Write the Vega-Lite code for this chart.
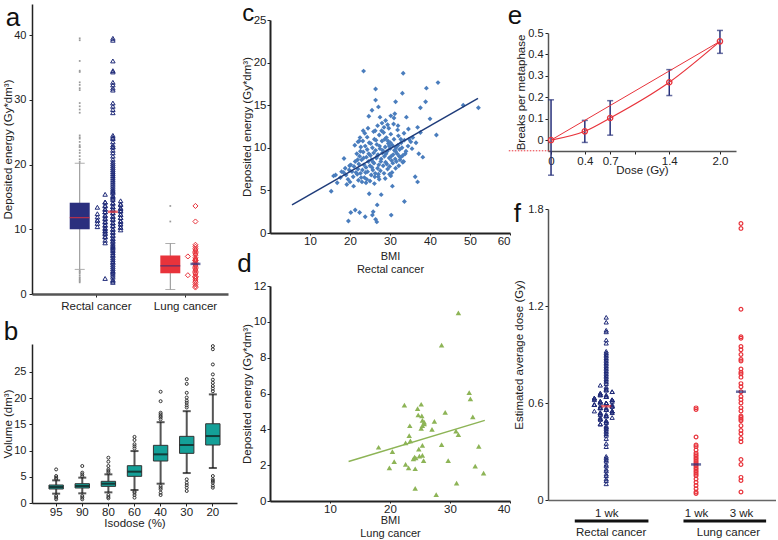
{
"$schema": "https://vega.github.io/schema/vega-lite/v6.json",
"padding": {"left": 2, "top": 0, "right": 0, "bottom": 0},
"background": "white",
"config": {
 "font": "Liberation Sans",
 "view": {"stroke": null},
 "axis": {"grid": false, "labelOverlap": false, "labelFontSize": 11, "titleFontSize": 11.5, "titleFontWeight": "normal", "labelColor": "#222", "titleColor": "#222", "domainColor": "#222", "tickColor": "#222", "tickSize": 3, "labelPadding": 2, "titlePadding": 1, "domainWidth": 1.5},
 "title": {"fontSize": 26, "fontWeight": "normal", "anchor": "start", "color": "#111", "offset": 0, "baseline": "alphabetic"}
},
"datasets": {
 "aBox": [{"g":"R","lo":3.8,"q1":10.0,"med":11.8,"q3":14.1,"hi":20.2},{"g":"L","lo":0.7,"q1":3.2,"med":4.35,"q3":5.95,"hi":7.8}],
 "aMean": [{"g":"R","m":12.7},{"g":"L","m":4.65}],
 "aDots": [
  {"g":"R","v":1.8},{"g":"R","v":2.0},{"g":"R","v":2.2},{"g":"R","v":2.4},{"g":"R","v":2.6},{"g":"R","v":2.9},{"g":"R","v":3.2},{"g":"R","v":3.4},{"g":"R","v":3.6},{"g":"R","v":3.9},
  {"g":"R","v":4.2},{"g":"R","v":4.5},{"g":"R","v":4.8},{"g":"R","v":5.0},{"g":"R","v":5.3},{"g":"R","v":5.6},{"g":"R","v":5.9},{"g":"R","v":6.1},{"g":"R","v":6.4},{"g":"R","v":6.7},
  {"g":"R","v":6.9},{"g":"R","v":7.1},{"g":"R","v":7.3},{"g":"R","v":7.5},{"g":"R","v":7.7},{"g":"R","v":7.9},{"g":"R","v":8.0},{"g":"R","v":8.2},{"g":"R","v":8.3},{"g":"R","v":8.5},
  {"g":"R","v":8.6},{"g":"R","v":8.8},{"g":"R","v":8.9},{"g":"R","v":9.0},{"g":"R","v":9.1},{"g":"R","v":9.3},{"g":"R","v":9.4},{"g":"R","v":9.5},{"g":"R","v":9.6},{"g":"R","v":9.7},
  {"g":"R","v":9.8},{"g":"R","v":9.9},{"g":"R","v":10.0},{"g":"R","v":10.0},{"g":"R","v":10.1},{"g":"R","v":10.2},{"g":"R","v":10.3},{"g":"R","v":10.4},{"g":"R","v":10.5},{"g":"R","v":10.6},
  {"g":"R","v":10.7},{"g":"R","v":10.8},{"g":"R","v":10.9},{"g":"R","v":11.0},{"g":"R","v":11.1},{"g":"R","v":11.2},{"g":"R","v":11.3},{"g":"R","v":11.4},{"g":"R","v":11.5},{"g":"R","v":11.6},
  {"g":"R","v":11.7},{"g":"R","v":11.8},{"g":"R","v":11.9},{"g":"R","v":12.0},{"g":"R","v":10.3},{"g":"R","v":10.6},{"g":"R","v":11.0},{"g":"R","v":11.4},{"g":"R","v":11.8},{"g":"R","v":10.8},
  {"g":"R","v":11.2},{"g":"R","v":11.6},{"g":"R","v":12.1},{"g":"R","v":12.2},{"g":"R","v":12.3},{"g":"R","v":12.4},{"g":"R","v":12.5},{"g":"R","v":12.6},{"g":"R","v":12.7},{"g":"R","v":12.8},
  {"g":"R","v":12.9},{"g":"R","v":13.0},{"g":"R","v":13.1},{"g":"R","v":13.2},{"g":"R","v":13.3},{"g":"R","v":13.4},{"g":"R","v":13.5},{"g":"R","v":13.6},{"g":"R","v":13.7},{"g":"R","v":13.8},
  {"g":"R","v":13.9},{"g":"R","v":14.0},{"g":"R","v":12.3},{"g":"R","v":12.7},{"g":"R","v":13.1},{"g":"R","v":13.1},{"g":"R","v":13.5},{"g":"R","v":12.0},{"g":"R","v":14.1},{"g":"R","v":14.2},
  {"g":"R","v":14.2},{"g":"R","v":14.4},{"g":"R","v":14.6},{"g":"R","v":14.8},{"g":"R","v":15.0},{"g":"R","v":15.2},{"g":"R","v":15.4},{"g":"R","v":15.6},{"g":"R","v":15.8},{"g":"R","v":16.0},
  {"g":"R","v":16.2},{"g":"R","v":16.5},{"g":"R","v":16.8},{"g":"R","v":17.1},{"g":"R","v":17.4},{"g":"R","v":17.7},{"g":"R","v":18.0},{"g":"R","v":18.3},{"g":"R","v":18.6},{"g":"R","v":18.9},
  {"g":"R","v":19.2},{"g":"R","v":19.5},{"g":"R","v":19.8},{"g":"R","v":20.1},{"g":"R","v":20.4},{"g":"R","v":20.8},{"g":"R","v":21.3},{"g":"R","v":21.8},{"g":"R","v":22.2},{"g":"R","v":22.7},
  {"g":"R","v":22.7},{"g":"R","v":23.0},{"g":"R","v":23.5},{"g":"R","v":24.0},{"g":"R","v":24.2},{"g":"R","v":24.5},{"g":"R","v":28.0},{"g":"R","v":28.5},{"g":"R","v":29.0},{"g":"R","v":29.5},
  {"g":"R","v":31.5},{"g":"R","v":31.8},{"g":"R","v":32.3},{"g":"R","v":32.7},{"g":"R","v":34.3},{"g":"R","v":34.5},{"g":"R","v":36.0},{"g":"R","v":39.2},{"g":"R","v":39.5},
  {"g":"L","v":1.0},{"g":"L","v":1.2},{"g":"L","v":1.5},{"g":"L","v":1.8},{"g":"L","v":2.0},{"g":"L","v":2.3},{"g":"L","v":2.5},{"g":"L","v":2.7},{"g":"L","v":2.7},{"g":"L","v":2.9},
  {"g":"L","v":3.1},{"g":"L","v":3.3},{"g":"L","v":3.5},{"g":"L","v":3.7},{"g":"L","v":3.9},{"g":"L","v":4.1},{"g":"L","v":4.3},{"g":"L","v":4.5},{"g":"L","v":4.7},{"g":"L","v":4.9},
  {"g":"L","v":5.1},{"g":"L","v":5.2},{"g":"L","v":5.2},{"g":"L","v":5.4},{"g":"L","v":5.6},{"g":"L","v":5.8},{"g":"L","v":6.0},{"g":"L","v":6.2},{"g":"L","v":6.4},{"g":"L","v":6.6},
  {"g":"L","v":6.8},{"g":"L","v":7.0},{"g":"L","v":7.3},{"g":"L","v":7.6},{"g":"L","v":11.2},{"g":"L","v":13.6}
 ],
 "bBox": [
  {"iso":"95","lo":1.78,"q1":2.67,"med":3.05,"q3":3.43,"hi":4.32},
  {"iso":"90","lo":1.84,"q1":2.86,"med":3.24,"q3":3.68,"hi":4.83},
  {"iso":"80","lo":2.03,"q1":3.17,"med":3.68,"q3":4.13,"hi":5.46},
  {"iso":"60","lo":2.48,"q1":5.08,"med":5.97,"q3":7.11,"hi":9.9},
  {"iso":"40","lo":3.68,"q1":8.0,"med":9.27,"q3":10.99,"hi":15.4},
  {"iso":"30","lo":5.71,"q1":9.46,"med":11.05,"q3":12.7,"hi":17.5},
  {"iso":"20","lo":6.67,"q1":11.05,"med":12.76,"q3":15.1,"hi":20.7}
 ],
 "bOut": [
  {"iso":"95","v":4.6},{"iso":"95","v":4.83},{"iso":"95","v":5.14},{"iso":"95","v":6.4},{"iso":"95","v":1.33},{"iso":"95","v":1.02},{"iso":"95","v":0.7},
  {"iso":"90","v":5.1},{"iso":"90","v":5.46},{"iso":"90","v":5.78},{"iso":"90","v":7.05},{"iso":"90","v":1.33},{"iso":"90","v":1.02},{"iso":"90","v":0.7},
  {"iso":"80","v":5.78},{"iso":"80","v":6.1},{"iso":"80","v":6.41},{"iso":"80","v":7.05},{"iso":"80","v":7.87},{"iso":"80","v":8.63},{"iso":"80","v":1.52},{"iso":"80","v":1.14},{"iso":"80","v":0.89},
  {"iso":"60","v":10.4},{"iso":"60","v":10.8},{"iso":"60","v":11.2},{"iso":"60","v":12.0},{"iso":"60","v":12.6},{"iso":"60","v":2.2},{"iso":"60","v":1.97},{"iso":"60","v":1.52},{"iso":"60","v":1.02},
  {"iso":"40","v":15.94},{"iso":"40","v":16.3},{"iso":"40","v":16.57},{"iso":"40","v":16.9},{"iso":"40","v":17.2},{"iso":"40","v":19.4},{"iso":"40","v":21.2},{"iso":"40","v":3.24},{"iso":"40","v":2.9},{"iso":"40","v":2.6},{"iso":"40","v":1.97},{"iso":"40","v":1.52},
  {"iso":"30","v":18.2},{"iso":"30","v":18.6},{"iso":"30","v":19.1},{"iso":"30","v":19.5},{"iso":"30","v":20.1},{"iso":"30","v":21.0},{"iso":"30","v":22.7},{"iso":"30","v":23.6},{"iso":"30","v":4.51},{"iso":"30","v":3.87},{"iso":"30","v":3.4},{"iso":"30","v":2.92},{"iso":"30","v":2.29},
  {"iso":"20","v":21.3},{"iso":"20","v":21.8},{"iso":"20","v":22.3},{"iso":"20","v":22.9},{"iso":"20","v":23.5},{"iso":"20","v":24.5},{"iso":"20","v":26.4},{"iso":"20","v":29.3},{"iso":"20","v":29.9},{"iso":"20","v":5.14},{"iso":"20","v":4.51},{"iso":"20","v":4.2},{"iso":"20","v":3.87},{"iso":"20","v":3.3},{"iso":"20","v":2.92}
 ],
 "cPts": [
  {"b":23.4,"e":19.0},{"b":33.3,"e":18.75},{"b":42.0,"e":17.65},{"b":39.1,"e":17.0},{"b":26.4,"e":16.9},{"b":26.4,"e":15.6},{"b":33.1,"e":16.4},{"b":31.4,"e":15.4},{"b":38.9,"e":15.4},{"b":48.3,"e":15.0},
  {"b":52.1,"e":14.7},{"b":27.1,"e":14.8},{"b":25.5,"e":14.4},{"b":37.6,"e":14.7},{"b":24.7,"e":13.7},{"b":40.0,"e":13.4},{"b":41.6,"e":11.5},{"b":37.6,"e":11.8},{"b":36.9,"e":12.4},{"b":38.2,"e":8.9},
  {"b":36.3,"e":6.6},{"b":36.9,"e":6.0},{"b":15.3,"e":4.9},{"b":24.8,"e":4.6},{"b":27.8,"e":4.5},{"b":26.8,"e":3.3},{"b":33.6,"e":3.7},{"b":21.3,"e":2.7},{"b":22.4,"e":2.4},{"b":20.2,"e":2.4},
  {"b":23.8,"e":1.9},{"b":25.6,"e":2.1},{"b":25.8,"e":2.5},{"b":26.4,"e":1.6},{"b":26.7,"e":1.3},{"b":19.6,"e":1.4},{"b":30.3,"e":2.1},{"b":18.5,"e":8.75},{"b":16.4,"e":6.8},{"b":16.8,"e":5.9},
  {"b":15.9,"e":6.7},{"b":18.4,"e":7.1},{"b":19.9,"e":7.9},{"b":29.8,"e":10.2},{"b":32.7,"e":11.0},{"b":35.2,"e":10.7},{"b":35.7,"e":11.2},{"b":34.6,"e":12.2},{"b":32.0,"e":12.6},{"b":28.9,"e":13.2},
  {"b":30.2,"e":13.75},{"b":34.1,"e":13.6},{"b":28.5,"e":12.4},{"b":22.3,"e":10.8},{"b":22.6,"e":9.6},{"b":24.3,"e":11.25},{"b":23.3,"e":12.0},{"b":32.3,"e":9.0},{"b":33.2,"e":8.3},{"b":31.4,"e":9.6},
  {"b":32.7,"e":8.9},{"b":30.2,"e":6.7},{"b":30.6,"e":5.5},{"b":27.1,"e":6.6},
  {"b":20.5,"e":7.2},{"b":21.0,"e":7.8},{"b":21.3,"e":8.4},{"b":21.8,"e":6.9},{"b":22.0,"e":7.5},{"b":22.2,"e":8.1},{"b":22.4,"e":9.0},{"b":22.6,"e":7.0},{"b":22.9,"e":8.6},{"b":23.1,"e":7.4},
  {"b":23.3,"e":9.5},{"b":23.5,"e":8.0},{"b":23.6,"e":6.5},{"b":23.8,"e":10.2},{"b":24.0,"e":7.7},{"b":24.1,"e":8.9},{"b":24.3,"e":9.8},{"b":24.4,"e":7.2},{"b":24.6,"e":8.4},{"b":24.8,"e":10.6},
  {"b":25.0,"e":7.9},{"b":25.1,"e":9.1},{"b":25.3,"e":6.8},{"b":25.4,"e":8.6},{"b":25.6,"e":10.0},{"b":25.7,"e":7.4},{"b":25.9,"e":9.4},{"b":26.0,"e":8.2},{"b":26.1,"e":11.0},{"b":26.3,"e":7.0},
  {"b":26.4,"e":9.7},{"b":26.6,"e":8.8},{"b":26.7,"e":10.4},{"b":26.9,"e":7.6},{"b":27.0,"e":9.2},{"b":27.2,"e":8.0},{"b":27.3,"e":11.5},{"b":27.5,"e":9.9},{"b":27.6,"e":7.3},{"b":27.8,"e":8.7},
  {"b":28.0,"e":10.8},{"b":28.1,"e":9.4},{"b":28.3,"e":7.9},{"b":28.4,"e":11.8},{"b":28.6,"e":9.0},{"b":28.8,"e":10.1},{"b":28.9,"e":8.3},{"b":29.1,"e":11.2},{"b":29.3,"e":9.6},{"b":29.4,"e":7.5},
  {"b":29.6,"e":10.5},{"b":29.8,"e":8.8},{"b":30.0,"e":9.9},{"b":30.2,"e":11.6},{"b":30.4,"e":8.5},{"b":30.6,"e":10.3},{"b":30.8,"e":9.2},{"b":31.0,"e":11.0},{"b":31.3,"e":8.7},{"b":31.5,"e":10.0},
  {"b":31.8,"e":9.3},{"b":32.1,"e":11.4},{"b":32.4,"e":9.8},{"b":32.8,"e":10.6},{"b":33.2,"e":9.1},{"b":33.6,"e":10.9},{"b":34.0,"e":9.6},{"b":34.5,"e":10.2},{"b":19.5,"e":6.3},{"b":19.8,"e":7.4},
  {"b":20.0,"e":6.0},{"b":20.2,"e":8.0},{"b":20.8,"e":6.6},{"b":21.5,"e":7.1},{"b":21.7,"e":9.3},{"b":22.1,"e":6.2},{"b":22.7,"e":10.1},{"b":23.0,"e":6.0},{"b":23.4,"e":8.8},{"b":23.9,"e":7.1},
  {"b":24.2,"e":6.3},{"b":24.7,"e":9.3},{"b":25.2,"e":10.5},{"b":25.5,"e":7.7},{"b":25.8,"e":8.3},{"b":26.2,"e":6.6},{"b":26.5,"e":10.9},{"b":26.8,"e":9.0},{"b":27.1,"e":6.9},{"b":27.4,"e":10.2},
  {"b":27.7,"e":8.4},{"b":28.2,"e":9.7},{"b":28.5,"e":7.0},{"b":28.7,"e":11.0},{"b":29.0,"e":9.3},{"b":29.2,"e":8.1},{"b":29.5,"e":10.8},{"b":29.9,"e":7.8},{"b":30.1,"e":10.6},{"b":30.3,"e":9.0},
  {"b":30.7,"e":8.2},{"b":31.1,"e":9.7},{"b":31.6,"e":8.4},{"b":32.0,"e":10.3},{"b":32.5,"e":8.6},{"b":33.0,"e":10.0},{"b":33.4,"e":8.4},{"b":21.2,"e":10.3},{"b":22.5,"e":11.2},{"b":23.7,"e":11.7},
  {"b":24.5,"e":12.3},{"b":25.9,"e":11.9},{"b":26.9,"e":12.6},{"b":27.9,"e":12.0},{"b":29.7,"e":12.3},{"b":30.9,"e":12.8},{"b":31.9,"e":12.1},{"b":31.2,"e":14.0},{"b":31.0,"e":13.5},{"b":27.5,"e":13.6},
  {"b":22.8,"e":6.5},{"b":24.0,"e":5.9},{"b":25.0,"e":6.1},{"b":26.1,"e":5.8},{"b":27.3,"e":6.3},{"b":28.8,"e":6.4},{"b":29.9,"e":6.9},{"b":20.9,"e":5.5},{"b":19.2,"e":5.7},{"b":17.6,"e":6.5},
  {"b":17.9,"e":7.2},{"b":18.8,"e":7.6},{"b":19.0,"e":6.8},{"b":22.0,"e":10.7},{"b":23.2,"e":10.8},{"b":21.9,"e":8.6},{"b":26.3,"e":12.0},{"b":28.0,"e":12.9},{"b":29.4,"e":12.7},{"b":33.8,"e":9.3},
  {"b":34.8,"e":11.0},{"b":35.5,"e":9.9},{"b":33.5,"e":11.7},{"b":36.5,"e":10.6},{"b":37.2,"e":9.3},{"b":31.4,"e":7.6},{"b":32.2,"e":7.9},{"b":30.5,"e":7.1}
 ],
 "cLine": [{"b":5.5,"e":3.3},{"b":52.0,"e":15.8}],
 "dPts": [
  {"b":31.4,"e":10.5},{"b":28.6,"e":8.7},{"b":33.2,"e":6.05},{"b":33.4,"e":5.7},{"b":22.4,"e":5.35},{"b":25.2,"e":5.4},{"b":24.6,"e":5.15},{"b":29.2,"e":4.95},{"b":24.7,"e":4.8},{"b":25.3,"e":4.75},
  {"b":25.4,"e":4.5},{"b":33.8,"e":4.7},{"b":25.7,"e":4.4},{"b":27.4,"e":4.45},{"b":25.4,"e":4.2},{"b":23.3,"e":4.2},{"b":25.7,"e":4.3},{"b":27.0,"e":4.0},{"b":25.2,"e":4.05},{"b":31.0,"e":3.9},
  {"b":31.4,"e":3.7},{"b":23.2,"e":3.65},{"b":23.4,"e":3.35},{"b":22.6,"e":3.25},{"b":25.4,"e":3.1},{"b":28.6,"e":3.15},{"b":34.8,"e":3.05},{"b":18.1,"e":3.0},{"b":24.8,"e":2.9},{"b":20.4,"e":2.75},
  {"b":25.4,"e":2.55},{"b":24.9,"e":2.5},{"b":24.1,"e":2.45},{"b":23.9,"e":2.35},{"b":24.3,"e":2.4},{"b":25.6,"e":2.25},{"b":29.7,"e":2.25},{"b":20.7,"e":2.2},{"b":22.6,"e":2.05},{"b":34.2,"e":1.95},
  {"b":19.9,"e":1.85},{"b":23.1,"e":1.85},{"b":24.2,"e":1.8},{"b":35.6,"e":1.55},{"b":31.1,"e":1.0},{"b":24.2,"e":0.7},{"b":27.7,"e":0.35}
 ],
 "dLine": [{"b":13.1,"e":2.2},{"b":35.8,"e":4.5}],
 "eFit": [{"d":0,"y":0,"lo":-0.164,"hi":0.188},{"d":0.4,"y":0.041,"lo":-0.011,"hi":0.092},{"d":0.7,"y":0.103,"lo":0.023,"hi":0.184},{"d":1.4,"y":0.27,"lo":0.208,"hi":0.329},{"d":2.0,"y":0.461,"lo":0.405,"hi":0.512}],
 "eLin": [{"d":0,"y":0},{"d":2.0,"y":0.461}],
 "eExt": [{"d":-0.5,"y":-0.05},{"d":0,"y":-0.05}],
 "fDots": [
  {"g":"R1","v":0.10},{"g":"R1","v":0.12},{"g":"R1","v":0.13},{"g":"R1","v":0.15},{"g":"R1","v":0.16},{"g":"R1","v":0.18},{"g":"R1","v":0.19},{"g":"R1","v":0.21},{"g":"R1","v":0.22},{"g":"R1","v":0.24},
  {"g":"R1","v":0.25},{"g":"R1","v":0.26},{"g":"R1","v":0.27},{"g":"R1","v":0.33},{"g":"R1","v":0.35},{"g":"R1","v":0.38},{"g":"R1","v":0.40},{"g":"R1","v":0.41},{"g":"R1","v":0.42},{"g":"R1","v":0.43},
  {"g":"R1","v":0.44},{"g":"R1","v":0.45},{"g":"R1","v":0.45},{"g":"R1","v":0.46},{"g":"R1","v":0.47},{"g":"R1","v":0.47},{"g":"R1","v":0.48},{"g":"R1","v":0.48},{"g":"R1","v":0.49},{"g":"R1","v":0.49},
  {"g":"R1","v":0.50},{"g":"R1","v":0.50},{"g":"R1","v":0.50},{"g":"R1","v":0.51},{"g":"R1","v":0.51},{"g":"R1","v":0.52},{"g":"R1","v":0.52},{"g":"R1","v":0.52},{"g":"R1","v":0.53},{"g":"R1","v":0.53},
  {"g":"R1","v":0.53},{"g":"R1","v":0.54},{"g":"R1","v":0.54},{"g":"R1","v":0.54},{"g":"R1","v":0.55},{"g":"R1","v":0.55},{"g":"R1","v":0.55},{"g":"R1","v":0.55},{"g":"R1","v":0.56},{"g":"R1","v":0.56},
  {"g":"R1","v":0.56},{"g":"R1","v":0.57},{"g":"R1","v":0.57},{"g":"R1","v":0.57},{"g":"R1","v":0.57},{"g":"R1","v":0.58},{"g":"R1","v":0.58},{"g":"R1","v":0.58},{"g":"R1","v":0.58},{"g":"R1","v":0.59},
  {"g":"R1","v":0.59},{"g":"R1","v":0.59},{"g":"R1","v":0.59},{"g":"R1","v":0.60},{"g":"R1","v":0.60},{"g":"R1","v":0.60},{"g":"R1","v":0.60},{"g":"R1","v":0.60},{"g":"R1","v":0.61},{"g":"R1","v":0.61},
  {"g":"R1","v":0.61},{"g":"R1","v":0.61},{"g":"R1","v":0.62},{"g":"R1","v":0.62},{"g":"R1","v":0.62},{"g":"R1","v":0.62},{"g":"R1","v":0.63},{"g":"R1","v":0.63},{"g":"R1","v":0.63},{"g":"R1","v":0.64},
  {"g":"R1","v":0.64},{"g":"R1","v":0.64},{"g":"R1","v":0.65},{"g":"R1","v":0.65},{"g":"R1","v":0.65},{"g":"R1","v":0.66},{"g":"R1","v":0.66},{"g":"R1","v":0.67},{"g":"R1","v":0.67},{"g":"R1","v":0.68},
  {"g":"R1","v":0.68},{"g":"R1","v":0.69},{"g":"R1","v":0.70},{"g":"R1","v":0.71},{"g":"R1","v":0.72},{"g":"R1","v":0.73},{"g":"R1","v":0.74},{"g":"R1","v":0.75},{"g":"R1","v":0.76},{"g":"R1","v":0.77},
  {"g":"R1","v":0.78},{"g":"R1","v":0.79},{"g":"R1","v":0.80},{"g":"R1","v":0.81},{"g":"R1","v":0.82},{"g":"R1","v":0.83},{"g":"R1","v":0.84},{"g":"R1","v":0.85},{"g":"R1","v":0.86},{"g":"R1","v":0.87},
  {"g":"R1","v":0.88},{"g":"R1","v":0.89},{"g":"R1","v":0.90},{"g":"R1","v":0.91},{"g":"R1","v":0.92},{"g":"R1","v":0.97},{"g":"R1","v":0.99},{"g":"R1","v":1.04},{"g":"R1","v":1.05},{"g":"R1","v":1.10},
  {"g":"R1","v":1.13},
  {"g":"L1","v":0.04},{"g":"L1","v":0.05},{"g":"L1","v":0.07},{"g":"L1","v":0.09},{"g":"L1","v":0.11},{"g":"L1","v":0.13},{"g":"L1","v":0.15},{"g":"L1","v":0.16},{"g":"L1","v":0.17},{"g":"L1","v":0.18},
  {"g":"L1","v":0.19},{"g":"L1","v":0.20},{"g":"L1","v":0.21},{"g":"L1","v":0.22},{"g":"L1","v":0.23},{"g":"L1","v":0.24},{"g":"L1","v":0.25},{"g":"L1","v":0.26},{"g":"L1","v":0.27},{"g":"L1","v":0.28},
  {"g":"L1","v":0.29},{"g":"L1","v":0.31},{"g":"L1","v":0.33},{"g":"L1","v":0.34},{"g":"L1","v":0.39},{"g":"L1","v":0.56},{"g":"L1","v":0.57},
  {"g":"L3","v":0.05},{"g":"L3","v":0.12},{"g":"L3","v":0.14},{"g":"L3","v":0.22},{"g":"L3","v":0.25},{"g":"L3","v":0.36},{"g":"L3","v":0.38},{"g":"L3","v":0.41},{"g":"L3","v":0.43},{"g":"L3","v":0.46},
  {"g":"L3","v":0.49},{"g":"L3","v":0.50},{"g":"L3","v":0.51},{"g":"L3","v":0.52},{"g":"L3","v":0.55},{"g":"L3","v":0.57},{"g":"L3","v":0.60},{"g":"L3","v":0.62},{"g":"L3","v":0.64},{"g":"L3","v":0.67},
  {"g":"L3","v":0.70},{"g":"L3","v":0.72},{"g":"L3","v":0.76},{"g":"L3","v":0.78},{"g":"L3","v":0.79},{"g":"L3","v":0.81},{"g":"L3","v":0.86},{"g":"L3","v":0.87},{"g":"L3","v":0.90},{"g":"L3","v":0.93},
  {"g":"L3","v":0.95},{"g":"L3","v":1.00},{"g":"L3","v":1.01},{"g":"L3","v":1.18},{"g":"L3","v":1.68},{"g":"L3","v":1.71}
 ],
 "fMean": [{"g":"R1","m":0.58},{"g":"L1","m":0.22},{"g":"L3","m":0.67}],
 "fGroups": [{"grp":"Rectal cancer"},{"grp":"Lung cancer"}],
 "none": []
},
"columns": 2,
"align": "none",
"spacing": 0,
"concat": [
 {"spacing": 1, "vconcat": [
  {"width": 10, "height": 1, "data": {"name": "none"}, "mark": "point", "view": {"stroke": "transparent"}},
  {"spacing": 6, "vconcat": [
  {"width": 196, "height": 290, "title": {"text": "a", "dx": 3, "offset": -27},
   "layer": [
    {"data": {"name": "aBox"}, "transform": [{"calculate": "datum.g == 'R' ? 0.819 : 1.835", "as": "xc"}],
     "mark": {"type": "rule", "color": "#8c8c8c", "strokeWidth": 1},
     "encoding": {
      "x": {"field": "xc", "type": "quantitative", "scale": {"domain": [0.34, 2.426], "nice": false, "zero": false}, "axis": {"values": [1, 2], "tickCount": 50, "labelExpr": "datum.value == 1 ? 'Rectal cancer' : 'Lung cancer'", "title": null, "domainColor": "#555", "domainWidth": 2.5, "labelPadding": 3, "labelFontSize": 11.5}},
      "y": {"field": "lo", "type": "quantitative", "scale": {"domain": [0, 44.8], "nice": false, "zero": false}, "axis": {"values": [0, 10, 20, 30, 40], "tickCount": 50, "format": "~g", "title": "Deposited energy (Gy*dm³)", "titlePadding": 0, "labelPadding": 3}},
      "y2": {"field": "hi"}}},
    {"data": {"name": "aBox"}, "transform": [{"calculate": "datum.g == 'R' ? 0.819 : 1.835", "as": "xc"}, {"fold": ["lo", "hi"], "as": ["k", "val"]}],
     "mark": {"type": "tick", "orient": "horizontal", "size": 10, "thickness": 1, "color": "#8c8c8c"},
     "encoding": {"x": {"field": "xc", "type": "quantitative"}, "y": {"field": "val", "type": "quantitative"}}},
    {"data": {"name": "aBox"}, "transform": [{"calculate": "datum.g == 'R' ? 0.819 : 1.835", "as": "xc"}],
     "mark": {"type": "bar", "orient": "vertical", "width": 20},
     "encoding": {"x": {"field": "xc", "type": "quantitative"}, "y": {"field": "q1", "type": "quantitative"}, "y2": {"field": "q3"},
      "color": {"condition": {"test": "datum.g == 'R'", "value": "#2a2f7e"}, "value": "#e8333b"}}},
    {"data": {"name": "aBox"}, "transform": [{"calculate": "datum.g == 'R' ? 0.819 : 1.835", "as": "xc"}],
     "mark": {"type": "tick", "orient": "horizontal", "size": 20, "thickness": 1.3},
     "encoding": {"x": {"field": "xc", "type": "quantitative"}, "y": {"field": "med", "type": "quantitative"},
      "color": {"condition": {"test": "datum.g == 'R'", "value": "#e8333b"}, "value": "#2a2f7e"}}},
    {"data": {"name": "aDots"}, "transform": [{"filter": "(datum.g == 'R' && (datum.v > 20.2 || datum.v < 3.8)) || (datum.g == 'L' && (datum.v > 7.8 || datum.v < 0.7))"}, {"calculate": "datum.g == 'R' ? 0.819 : 1.835", "as": "xc"}],
     "mark": {"type": "point", "shape": "square", "filled": true, "size": 3, "color": "#999", "opacity": 1},
     "encoding": {"x": {"field": "xc", "type": "quantitative"}, "y": {"field": "v", "type": "quantitative"}}},
    {"data": {"name": "aDots"}, "transform": [{"filter": "datum.g == 'R'"}, {"bin": {"step": 0.5, "anchor": 0}, "field": "v", "as": "vb"}, {"window": [{"op": "row_number", "as": "rk"}], "groupby": ["vb"], "sort": [{"field": "v", "order": "ascending"}]}, {"calculate": "floor((datum.rk - 1) / 2)", "as": "k"}, {"calculate": "1.191 + (datum.k == 0 ? 0 : (datum.k % 2 == 1 ? -(datum.k + 1) / 2 : datum.k / 2)) * 0.087", "as": "px"}],
     "mark": {"type": "point", "shape": "triangle-up", "filled": false, "size": 20, "strokeWidth": 1, "color": "#1f2a78", "opacity": 1},
     "encoding": {"x": {"field": "px", "type": "quantitative"}, "y": {"field": "v", "type": "quantitative"}}},
    {"data": {"name": "aDots"}, "transform": [{"filter": "datum.g == 'L'"}, {"bin": {"step": 1, "anchor": 0}, "field": "v", "as": "vb"}, {"window": [{"op": "row_number", "as": "rk"}], "groupby": ["vb"], "sort": [{"field": "v", "order": "ascending"}]}, {"calculate": "floor((datum.rk - 1) / 5)", "as": "k"}, {"calculate": "2.117 + (datum.k == 0 ? 0 : (datum.k % 2 == 1 ? -(datum.k + 1) / 2 : datum.k / 2)) * 0.085", "as": "px"}],
     "mark": {"type": "point", "shape": "diamond", "filled": false, "size": 26, "strokeWidth": 1, "color": "#e8333b", "opacity": 1},
     "encoding": {"x": {"field": "px", "type": "quantitative"}, "y": {"field": "v", "type": "quantitative"}}},
    {"data": {"name": "aMean"}, "transform": [{"calculate": "datum.g == 'R' ? 1.191 : 2.117", "as": "px"}],
     "mark": {"type": "tick", "orient": "horizontal", "size": 10, "thickness": 2.5},
     "encoding": {"x": {"field": "px", "type": "quantitative"}, "y": {"field": "m", "type": "quantitative"},
      "color": {"condition": {"test": "datum.g == 'R'", "value": "#e8333b"}, "value": "#2a2f7e"}}}
   ]},
  {"width": 205, "height": 159, "title": {"text": "b", "dx": 1, "offset": -2},
   "layer": [
    {"data": {"name": "bBox"}, "mark": {"type": "rule", "color": "#555", "strokeWidth": 2},
     "encoding": {
      "x": {"field": "iso", "type": "ordinal", "sort": ["95", "90", "80", "60", "40", "30", "20"], "scale": {"type": "band", "paddingInner": 0.45, "paddingOuter": 0.65}, "axis": {"title": "Isodose (%)", "labelAngle": 0, "labelPadding": 0, "titlePadding": 0, "labelFontSize": 11.5}},
      "y": {"field": "lo", "type": "quantitative", "scale": {"domain": [0, 30.3], "nice": false, "zero": false}, "axis": {"values": [0, 5, 10, 15, 20, 25], "tickCount": 50, "format": "~g", "title": "Volume (dm³)", "titlePadding": 0, "labelPadding": 3}},
      "y2": {"field": "hi"}}},
    {"data": {"name": "bBox"}, "transform": [{"fold": ["lo", "hi"], "as": ["k", "val"]}],
     "mark": {"type": "tick", "orient": "horizontal", "size": 8, "thickness": 2, "color": "#111"},
     "encoding": {"x": {"field": "iso", "type": "ordinal", "sort": ["95", "90", "80", "60", "40", "30", "20"]}, "y": {"field": "val", "type": "quantitative"}}},
    {"data": {"name": "bBox"}, "mark": {"type": "bar", "color": "#14a098", "stroke": "#333", "strokeWidth": 1},
     "encoding": {"x": {"field": "iso", "type": "ordinal", "sort": ["95", "90", "80", "60", "40", "30", "20"]}, "y": {"field": "q1", "type": "quantitative"}, "y2": {"field": "q3"}}},
    {"data": {"name": "bBox"}, "mark": {"type": "tick", "orient": "horizontal", "size": 14, "thickness": 2, "color": "#111"},
     "encoding": {"x": {"field": "iso", "type": "ordinal", "sort": ["95", "90", "80", "60", "40", "30", "20"]}, "y": {"field": "med", "type": "quantitative"}}},
    {"data": {"name": "bOut"}, "mark": {"type": "point", "shape": "circle", "filled": false, "size": 9, "strokeWidth": 1, "color": "#333", "opacity": 1},
     "encoding": {"x": {"field": "iso", "type": "ordinal", "sort": ["95", "90", "80", "60", "40", "30", "20"]}, "y": {"field": "v", "type": "quantitative"}}}
   ]}
  ]}
 ]},
 {"columns": 2, "align": "none", "spacing": -5, "concat": [
  {"spacing": -1, "vconcat": [
   {"width": 10, "height": 1, "data": {"name": "none"}, "mark": "point", "view": {"stroke": "transparent"}},
   {"spacing": -24, "vconcat": [
   {"width": 240, "height": 213, "title": {"text": "c", "dx": 1, "offset": -12, "fontSize": 24},
    "layer": [
     {"data": {"name": "cPts"}, "mark": {"type": "point", "shape": "diamond", "filled": true, "size": 24, "color": "#4a7dbd", "opacity": 1},
      "encoding": {
       "x": {"field": "b", "type": "quantitative", "scale": {"domain": [0, 60], "nice": false}, "axis": {"values": [10, 20, 30, 40, 50, 60], "tickCount": 50, "format": "~g", "title": ["BMI", "Rectal cancer"], "domainWidth": 2, "labelFontSize": 11.5, "tickSize": 2, "labelPadding": 0, "titlePadding": 4, "titleLineHeight": 13, "titleFontSize": 11}},
       "y": {"field": "e", "type": "quantitative", "scale": {"domain": [0, 25], "nice": false}, "axis": {"values": [0, 5, 10, 15, 20, 25], "tickCount": 50, "format": "~g", "title": "Deposited energy (Gy*dm³)", "domainWidth": 2, "labelFontSize": 11.5, "labelPadding": 1}}}},
     {"data": {"name": "cLine"}, "mark": {"type": "line", "color": "#1f3c7a", "strokeWidth": 1.5},
      "encoding": {"x": {"field": "b", "type": "quantitative"}, "y": {"field": "e", "type": "quantitative"}}}
    ]},
   {"width": 240, "height": 215, "title": {"text": "d", "dx": -4, "offset": 3},
    "layer": [
     {"data": {"name": "dPts"}, "mark": {"type": "point", "shape": "triangle-up", "filled": true, "size": 30, "color": "#8db456", "opacity": 1},
      "encoding": {
       "x": {"field": "b", "type": "quantitative", "scale": {"domain": [0, 40], "nice": false}, "axis": {"values": [10, 20, 30, 40], "tickCount": 50, "format": "~g", "title": ["BMI", "Lung cancer"], "domainWidth": 2, "labelFontSize": 11.5, "tickSize": 2, "labelPadding": 0, "titlePadding": 0, "titleLineHeight": 12.5, "titleFontSize": 11}},
       "y": {"field": "e", "type": "quantitative", "scale": {"domain": [0, 12], "nice": false}, "axis": {"values": [0, 2, 4, 6, 8, 10, 12], "tickCount": 50, "format": "~g", "title": "Deposited energy (Gy*dm³)", "domainWidth": 2, "labelFontSize": 11.5, "labelPadding": 1}}}},
     {"data": {"name": "dLine"}, "mark": {"type": "line", "color": "#8db456", "strokeWidth": 1.5},
      "encoding": {"x": {"field": "b", "type": "quantitative"}, "y": {"field": "e", "type": "quantitative"}}}
    ]}
   ]}
  ]},
  {"spacing": -1, "vconcat": [
   {"width": 10, "height": 1, "data": {"name": "none"}, "mark": "point", "view": {"stroke": "transparent"}},
   {"spacing": 25, "vconcat": [
   {"width": 188, "height": 118, "title": {"text": "e", "dx": 1, "offset": -1.5},
    "layer": [
     {"data": {"name": "eExt"}, "mark": {"type": "line", "color": "#e8333b", "strokeWidth": 1, "strokeDash": [1.5, 1.5]},
      "encoding": {
       "x": {"field": "d", "type": "quantitative", "scale": {"domain": [-0.036, 2.19], "nice": false, "zero": false}, "axis": {"values": [0, 0.4, 0.7, 1, 1.4, 2], "tickCount": 50, "format": "~g", "labelExpr": "datum.value == 1 ? '' : (datum.value == 2 ? '2.0' : datum.label)", "title": "Dose (Gy)", "domainColor": "#555", "labelFontSize": 11.5, "labelPadding": 1, "titlePadding": -2}},
       "y": {"field": "y", "type": "quantitative", "scale": {"domain": [-0.051, 0.5], "nice": false, "zero": false}, "axis": {"values": [0, 0.1, 0.2, 0.3, 0.4, 0.5], "tickCount": 50, "format": "~g", "title": "Breaks per metaphase", "domainColor": "#555"}}}},
     {"data": {"name": "eFit"}, "mark": {"type": "rule", "color": "#27307a", "strokeWidth": 1.5},
      "encoding": {"x": {"field": "d", "type": "quantitative"}, "y": {"field": "lo", "type": "quantitative"}, "y2": {"field": "hi"}}},
     {"data": {"name": "eFit"}, "transform": [{"fold": ["lo", "hi"], "as": ["k", "val"]}],
      "mark": {"type": "tick", "orient": "horizontal", "size": 6, "thickness": 1.5, "color": "#27307a"},
      "encoding": {"x": {"field": "d", "type": "quantitative"}, "y": {"field": "val", "type": "quantitative"}}},
     {"data": {"name": "eLin"}, "mark": {"type": "line", "color": "#e8333b", "strokeWidth": 1},
      "encoding": {"x": {"field": "d", "type": "quantitative"}, "y": {"field": "y", "type": "quantitative"}}},
     {"data": {"name": "eFit"}, "mark": {"type": "line", "color": "#e8333b", "strokeWidth": 1.2, "interpolate": "monotone"},
      "encoding": {"x": {"field": "d", "type": "quantitative"}, "y": {"field": "y", "type": "quantitative"}}},
     {"data": {"name": "eFit"}, "mark": {"type": "point", "shape": "circle", "filled": false, "size": 28, "strokeWidth": 1.3, "color": "#e8333b", "opacity": 1},
      "encoding": {"x": {"field": "d", "type": "quantitative"}, "y": {"field": "y", "type": "quantitative"}}}
    ]},
   {"width": 228, "height": 291, "title": {"text": "f", "dx": 0, "offset": -24},
    "layer": [
     {"data": {"name": "fDots"}, "transform": [{"filter": "datum.g == 'R1'"}, {"bin": {"step": 0.04, "anchor": 0}, "field": "v", "as": "vb"}, {"window": [{"op": "row_number", "as": "rk"}], "groupby": ["vb"], "sort": [{"field": "v", "order": "ascending"}]}, {"calculate": "floor((datum.rk - 1) / 4)", "as": "k"}, {"calculate": "1 + (datum.k == 0 ? 0 : (datum.k % 2 == 1 ? -(datum.k + 1) / 2 : datum.k / 2)) * 0.066", "as": "px"}],
      "mark": {"type": "point", "shape": "triangle-up", "filled": false, "size": 18, "strokeWidth": 1, "color": "#1f2a78", "opacity": 1},
      "encoding": {
       "x": {"field": "px", "type": "quantitative", "scale": {"domain": [0.352, 2.89], "nice": false, "zero": false}, "axis": {"values": [1, 2, 2.5], "tickCount": 50, "labelExpr": "datum.value == 2.5 ? '3 wk' : '1 wk'", "title": null, "ticks": false, "labelPadding": 7, "domainColor": "#666", "labelFontSize": 11.5}},
       "y": {"field": "v", "type": "quantitative", "scale": {"domain": [0, 1.8], "nice": false, "zero": false}, "axis": {"values": [0, 0.6, 1.2, 1.8], "tickCount": 50, "format": "~g", "title": "Estimated average dose (Gy)", "domainColor": "#555", "titlePadding": 3}}}},
     {"data": {"name": "fDots"}, "transform": [{"filter": "datum.g != 'R1'"}, {"calculate": "datum.g == 'L1' ? 2 : 2.5", "as": "px"}],
      "mark": {"type": "point", "shape": "circle", "filled": false, "size": 14, "strokeWidth": 1.2, "color": "#e8333b", "opacity": 1},
      "encoding": {"x": {"field": "px", "type": "quantitative"}, "y": {"field": "v", "type": "quantitative"}}},
     {"data": {"name": "fMean"}, "transform": [{"calculate": "datum.g == 'R1' ? 1 : (datum.g == 'L1' ? 2 : 2.5)", "as": "px"}],
      "mark": {"type": "tick", "orient": "horizontal", "size": 10, "thickness": 2.5},
      "encoding": {"x": {"field": "px", "type": "quantitative"}, "y": {"field": "m", "type": "quantitative"},
       "color": {"condition": {"test": "datum.g == 'R1'", "value": "#e8333b"}, "value": "#27307a"}}},
     {"data": {"name": "fGroups"}, "transform": [{"calculate": "datum.grp == 'Rectal cancer' ? 0.65 : 1.86", "as": "x0"}, {"calculate": "datum.grp == 'Rectal cancer' ? 1.47 : 2.78", "as": "x1"}],
      "mark": {"type": "rule", "color": "#111", "strokeWidth": 3},
      "encoding": {"x": {"field": "x0", "type": "quantitative"}, "x2": {"field": "x1"}, "y": {"datum": -0.13}}},
     {"data": {"name": "fGroups"}, "transform": [{"calculate": "datum.grp == 'Rectal cancer' ? 1.055 : 2.36", "as": "xc"}],
      "mark": {"type": "text", "fontSize": 11.5, "color": "#222", "baseline": "middle"},
      "encoding": {"x": {"field": "xc", "type": "quantitative"}, "y": {"datum": -0.205}, "text": {"field": "grp"}}}
    ]}
   ]}
  ]}
 ]}
]
}
